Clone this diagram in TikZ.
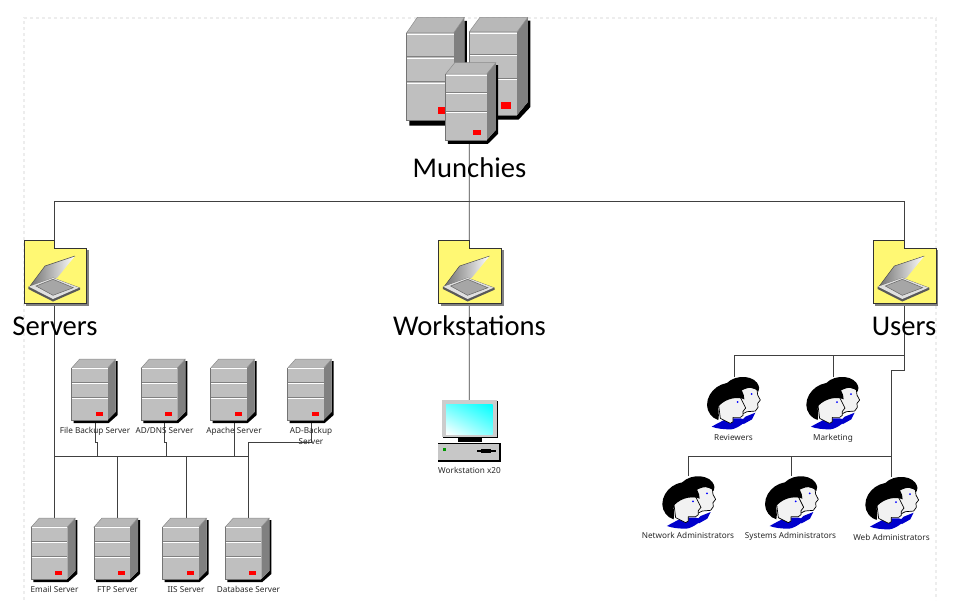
\documentclass[tikz,border=0pt]{standalone}
\usepackage{fontspec}
\setmainfont{Noto Sans}
\newfontfamily\bigfont{Carlito}
\usetikzlibrary{backgrounds,shadings}
\tikzset{
	lbl/.style={font=\fontsize{8.2}{11}\selectfont,align=center,inner sep=0pt,color=black!85,anchor=base},
	biglbl/.style={font=\bigfont\fontsize{28.6}{30}\selectfont,inner sep=0pt,anchor=base},
	wire/.style={line width=0.8pt,color=black!75},
	pics/server/.style={code={
		\fill [black] (2,52) -- (2,55) -- (37,55) -- (46,47) -- (46,-7) -- (44,-7) -- (44,44) -- (36,52) -- cycle;
		\fill [black!50] (36,0) -- (44,-9) -- (44,44) -- (36,52) -- cycle;
		\filldraw [fill=black!28,draw=black!45,line width=0.5pt] (0,0) -- (8,-9) -- (44,-9) -- (36,0) -- cycle;
		\fill [black!25] (0,0) rectangle (36,52);
		\draw [black!55,line width=0.6pt] (0,0) -- (0,52) -- (36,52);
		\draw [white,line width=0.8pt] (0.5,0.8) -- (36,0.8) (0.5,15) -- (36,15) (0.5,30) -- (36,30);
		\draw [black!50,line width=0.5pt] (0.5,14) -- (36,14) (0.5,29) -- (36,29);
		\fill [red] (24,43.7) rectangle (31,48);
		\coordinate (-top) at (#1,-9);
		\coordinate (-bot) at (#1,55);
	}},
	pics/server/.default=23,
	pics/folder/.style={code={
		\fill [black!50] (2,10) -- (65,10) -- (65,65.5) -- (2,65.5) -- cycle;
		\filldraw [fill=yellow!55,draw=black!80,line width=0.7pt] (0,0) -- (30.7,0) -- (30.7,8.3) -- (62.7,8.3) -- (62.7,63.3) -- (0,63.3) -- cycle;
		% scanner lid and bed
		\shade [left color=black!55,right color=white] (6,46) -- (21,26) -- (51,16) -- (33,38) -- cycle;
		\draw [black!70,line width=0.5pt] (6,46) -- (21,26) -- (51,16);
		\fill [black!65] (4.3,46.7) -- (29,37.7) -- (56,47.7) -- (56,49.7) -- (29,61.5) -- (4.3,49) -- cycle;
		\fill [black!12] (4.8,46.7) -- (29,37.9) -- (55,47.7) -- (29,59) -- cycle;
		\filldraw [fill=black!35,draw=black!60,line width=0.5pt] (12,46) -- (29,39.3) -- (49.3,47.7) -- (29,55.3) -- cycle;
		\coordinate (-top) at (30.7,0);
		\coordinate (-bot) at (30.7,63.3);
	}},
	pics/workst/.style={code={
		\fill [black] (1,1) rectangle (56,38);
		\fill [black!20] (0,0) rectangle (55,37);
		\shade [lower left=white,upper right=cyan,lower right=cyan!50,upper left=cyan!60] (4.5,4) rectangle (51,34);
		\fill [black] (16,38) rectangle (40,42);
		\fill [black] (-4,43) rectangle (59,62);
		\fill [black!22] (-3.5,43.5) rectangle (57,60);
		\fill [green!60!black] (1,48) rectangle (4.5,50.5);
		\fill [black] (35,50) rectangle (54,52);
		\fill [black] (39,49) rectangle (49,53);
		\coordinate (-top) at (27.6,0);
	}},
	pics/persons/.style={code={
		\begin{scope}[scale=0.3333,line join=round]
			% back person
			\fill [blue!80!black] (100,135) -- (115,120) -- (145,108) -- (135,128) -- (110,142) -- cycle;
			\filldraw [fill=black!5,draw=black,line width=0.7pt] (100,40) -- (125,30) -- (150,38) -- (152,55) -- (160,70) -- (152,80) -- (153,92) -- (145,103) -- (120,105) -- (100,115) -- cycle;
			\fill [black] (50,32) .. controls (70,-6) and (130,-8) .. (150,18) .. controls (158,30) and (158,38) .. (154,45) .. controls (145,35) and (135,32) .. (122,34) .. controls (105,38) and (90,50) .. (70,62) -- cycle;
			\fill [blue] (134,52) circle (3);
			% front person
			\fill [blue!80!black] (14,150) .. controls (30,140) and (50,132) .. (58,125) -- (100,125) -- (120,130) .. controls (100,150) and (80,158) .. (72,158) .. controls (50,158) and (30,156) .. (14,150) -- cycle;
			\filldraw [fill=black!5,draw=black,line width=0.7pt] (35,85) -- (60,62) -- (100,62) -- (108,78) -- (116,94) -- (108,104) -- (108,116) -- (100,122) -- (78,122) -- (78,135) -- (70,140) -- (40,125) -- cycle;
			\fill [black] (0,85) .. controls (0,40) and (50,8) .. (85,22) .. controls (102,32) and (112,50) .. (112,68) .. controls (95,60) and (60,62) .. (35,88) .. controls (32,100) and (38,110) .. (34,130) .. controls (15,125) and (0,105) .. (0,85) -- cycle;
			\fill [blue] (92,76) circle (3);
		\end{scope}
		\coordinate (-top) at (#1,0);
	}},
	pics/persons/.default=27,
}
\begin{document}
\begin{tikzpicture}[x=1pt,y=-1pt]
	\useasboundingbox (0,0) rectangle (960,600);
	\draw [black!7,dashed,line width=1.5pt] (24,600) -- (24,18) -- (936,18) -- (936,600);

	\coordinate (srvbus) at (54.7,201);
	\coordinate (usrbus) at (904,201);
	\coordinate (srvrow) at (54.7,456.7);
	\coordinate (srvend) at (248.3,456.7);
	\coordinate (srvjog) at (248.3,442.5);
	\coordinate (usrrow) at (734,355.7);
	\coordinate (usrturn) at (904,370);
	\coordinate (usrdown) at (891.7,370);
	\coordinate (admrow) at (688.3,456.7);
	\coordinate (admend) at (891.7,456.7);

	\node [biglbl] (munchies) at (469.5,177) {Munchies};
	\node [biglbl] (servers) at (55,335) {Servers};
	\node [biglbl] (workstations) at (469.5,335) {Workstations};
	\node [biglbl] (users) at (904,335) {Users};

	\pic (fileb) at (71.7,368) {server=23.3};
	\pic (addns) at (141.3,368) {server=23};
	\pic (apache) at (210.7,368) {server=23.8};
	\pic (adback) at (287.7,368) {server=24};
	\pic (email) at (31.3,527) {server=23.4};
	\pic (ftp) at (94,527) {server=23.7};
	\pic (iis) at (162.7,527) {server=23.3};
	\pic (dbase) at (225.3,527) {server=23};
	\pic (fldsrv) at (24,240) {folder};
	\pic (fldwrk) at (438.6,240) {folder};
	\pic (fldusr) at (873.3,240) {folder};
	\pic (wks) at (441.7,400) {workst};
	\pic (rev) at (707,376.7) {persons=27};
	\pic (mark) at (806.3,376.7) {persons=27};
	\pic (netadm) at (662.3,476) {persons=26};
	\pic (sysadm) at (765,476) {persons=26};
	\pic (webadm) at (865.3,476.7) {persons=26.4};

	% the three machines of the central group
	\pic [transform shape,xscale=1.33,yscale=1.6] (hubb) at (469.3,31.7) {server};
	\pic [transform shape,xscale=1.31,yscale=1.69] (huba) at (406.7,32.7) {server};
	\pic [transform shape,xscale=1.14,yscale=1.27] (hubc) at (445.7,74) {server=20.7};

	% wires go behind the icons
	\begin{scope}[on background layer]
		\draw [wire] (hubc-bot) -- (wks-top);
		\draw [wire] (srvbus) -- (usrbus);
		\draw [wire] (srvbus) -- (fldsrv-top);
		\draw [wire] (usrbus) -- (fldusr-top);
		\draw [wire] (fldsrv-bot) -- (email-top);
		\draw [wire] (srvrow) -- (srvend);
		\draw [wire] (fileb-bot) -- ++(0,19.7) -| ([xshift=2.4pt]fileb-bot |- srvrow);
		\draw [wire] (addns-bot) -- ++(0,19.5) -| ([xshift=1.7pt]addns-bot |- srvrow);
		\draw [wire] (apache-bot) -- (apache-bot |- srvrow);
		\draw [wire] (adback-bot) |- (srvjog) -- (dbase-top);
		\draw [wire] (ftp-top) -- (ftp-top |- srvrow);
		\draw [wire] (iis-top) -- (iis-top |- srvrow);
		\draw [wire] (fldusr-bot) -- (usrturn) -- (usrdown) -- (admend);
		\draw [wire] (usrrow) -- (usrrow -| usrbus);
		\draw [wire] (usrrow) -- (rev-top);
		\draw [wire] (mark-top) -- (mark-top |- usrrow);
		\draw [wire] (admrow) -- (admend);
		\draw [wire] (admrow) -- (netadm-top);
		\draw [wire] (sysadm-top) -- (sysadm-top |- admrow);
		\draw [wire] (webadm-top) -- (webadm-top |- admrow);
	\end{scope}

	\node [lbl] (fileblbl) at (95,433) {File Backup Server};
	\node [lbl] (addnslbl) at (164.5,433) {AD/DNS Server};
	\node [lbl] (apachelbl) at (234,433) {Apache Server};
	\node [lbl,anchor=center] (adbacklbl) at (311,435.5) {AD-Backup\\Server};
	\node [lbl] (emaillbl) at (54.5,592) {Email Server};
	\node [lbl] (ftplbl) at (117.5,592) {FTP Server};
	\node [lbl] (iislbl) at (186,592) {IIS Server};
	\node [lbl] (dbaselbl) at (248.5,592) {Database Server};
	\node [lbl] (wkslbl) at (469.5,473) {Workstation x20};
	\node [lbl] (revlbl) at (733.5,440) {Reviewers};
	\node [lbl] (marklbl) at (833,440) {Marketing};
	\node [lbl] (netadmlbl) at (688,538) {Network Administrators};
	\node [lbl] (sysadmlbl) at (790.5,538) {Systems Administrators};
	\node [lbl] (webadmlbl) at (891.5,540) {Web Administrators};
\end{tikzpicture}
\end{document}
